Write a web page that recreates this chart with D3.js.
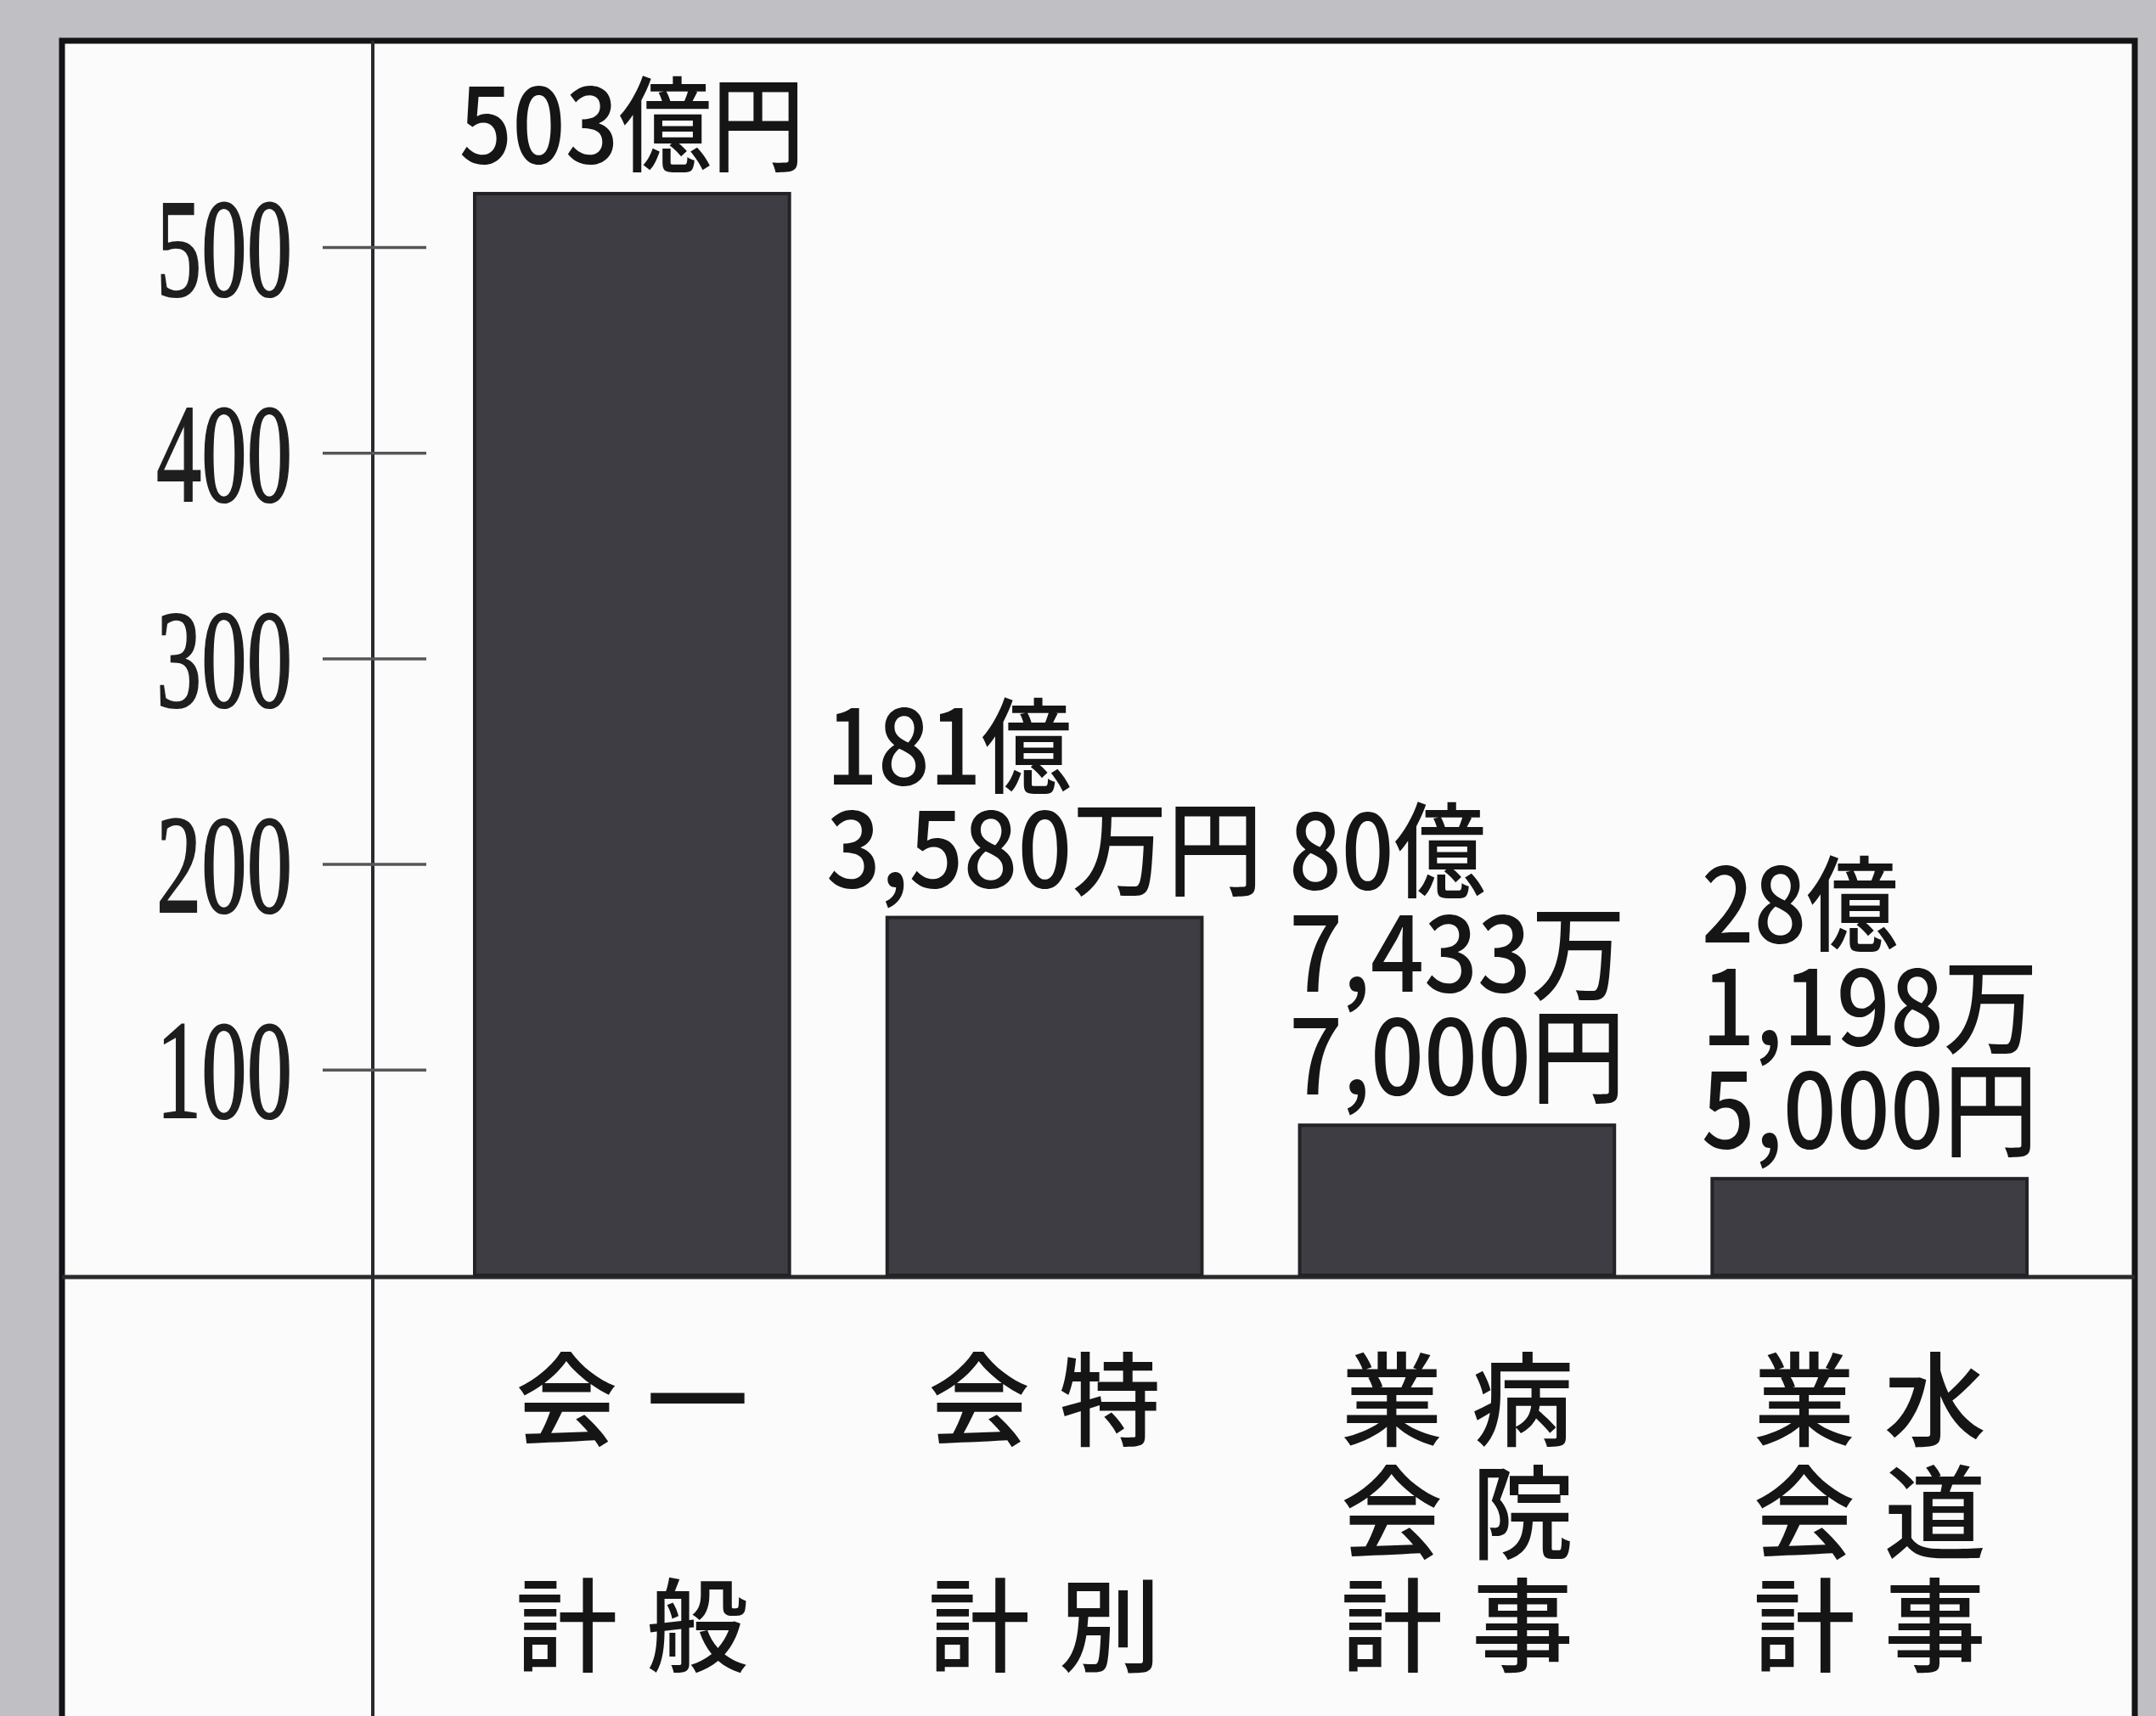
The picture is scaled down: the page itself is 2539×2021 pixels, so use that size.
<!DOCTYPE html>
<html>
<head>
<meta charset="utf-8">
<script src="https://cdn.jsdelivr.net/npm/d3@7"></script>
<style>
  html, body { margin: 0; padding: 0; background: #bfbfc3; }
  svg { display: block; }
</style>
</head>
<body>
<svg id="chart"></svg>
<script>
// categories (read top-to-bottom, right column first, as in the vertical print)
const categories = ["一般会計", "特別会計", "病院事業会計", "水道事業会計"];
// bar heights as drawn in the picture (億円)
const barValues = [526, 174, 73, 47];
// printed amounts above each bar
const amountLabels = [
    ["503億円"],
    ["181億", "3,580万円"],
    ["80億", "7,433万", "7,000円"],
    ["28億", "1,198万", "5,000円"]
];
const yTicks = [100, 200, 300, 400, 500];

const W = 2539, H = 2021;
const frame = { left: 73, top: 48, right: 2514, axisX: 439, baseY: 1504 };

const svg = d3.select("#chart")
    .attr("width", W)
    .attr("height", H)
    .attr("viewBox", `0 0 ${W} ${H}`);

// paper background and the white panel
svg.append("rect")
    .attr("width", W).attr("height", H)
    .attr("fill", "#c0c0c4");

svg.append("rect")
    .attr("x", frame.left).attr("y", frame.top)
    .attr("width", frame.right - frame.left)
    .attr("height", H + 100 - frame.top)
    .attr("fill", "#fbfbfb")
    .attr("stroke", "#141416")
    .attr("stroke-width", 7);

// scales
const x = d3.scaleBand()
    .domain(categories)
    .range([559, 2387])
    .paddingInner(0.237)
    .paddingOuter(0);

const y = d3.scaleLinear()
    .domain([0, 500])
    .range([1502, 291]);

// frame lines: vertical axis and baseline
svg.append("line")
    .attr("x1", frame.axisX).attr("x2", frame.axisX)
    .attr("y1", frame.top).attr("y2", H)
    .attr("stroke", "#2a2a2e")
    .attr("stroke-width", 4);

svg.append("line")
    .attr("x1", frame.left).attr("x2", frame.right)
    .attr("y1", frame.baseY).attr("y2", frame.baseY)
    .attr("stroke", "#2a2a2e")
    .attr("stroke-width", 5);

// Y axis ticks, crossing the axis line
const yAxis = svg.append("g")
    .attr("transform", "translate(502,0)")
    .call(d3.axisLeft(y)
        .tickValues(yTicks)
        .tickSize(122)
        .tickPadding(36));

yAxis.select(".domain").remove();
yAxis.selectAll("line")
    .attr("stroke", "#55555a")
    .attr("stroke-width", 3.5);
yAxis.selectAll("text")
    .attr("dy", null)
    .attr("y", 56)
    .attr("fill", "#1e1e1e")
    .attr("stroke", "#1e1e1e")
    .attr("stroke-width", 2)
    .attr("font-family", "'Liberation Serif', 'DejaVu Serif', serif")
    .attr("font-size", 166)
    .attr("textLength", 160)
    .attr("lengthAdjust", "spacingAndGlyphs");

// bars
svg.append("g")
    .selectAll("rect")
    .data(categories)
    .join("rect")
    .attr("x", d => x(d))
    .attr("y", (d, i) => y(barValues[i]))
    .attr("width", x.bandwidth())
    .attr("height", (d, i) => y(0) - y(barValues[i]))
    .attr("fill", "#3e3d43")
    .attr("stroke", "#232326")
    .attr("stroke-width", 4);

// amount labels above bars: left-aligned block, centred on the bar
const charW = ch => /[0-9]/.test(ch) ? 57 : (ch === "," ? 50 : 118);
const lineW = s => d3.sum(Array.from(s), charW);
const lineGap = 121;

const amountGroups = svg.append("g")
    .selectAll("g")
    .data(categories)
    .join("g");

amountGroups.each(function (d, i) {
    const lines = amountLabels[i];
    const blockW = d3.max(lines, lineW);
    const left = x(d) + x.bandwidth() / 2 - blockW / 2;
    const lastBase = y(barValues[i]) - 36;
    d3.select(this).selectAll("text")
        .data(lines)
        .join("text")
        .attr("x", left)
        .attr("y", (s, j) => lastBase - (lines.length - 1 - j) * lineGap)
        .attr("font-family", "'Noto Sans CJK JP', 'Noto Sans', sans-serif")
        .attr("font-weight", 500)
        .attr("font-size", 122)
        .attr("fill", "#151515")
        .attr("textLength", s => lineW(s))
        .attr("lengthAdjust", "spacingAndGlyphs")
        .text(s => s);
});

// category names, written vertically: right column first, then left column
const colOffset = 77;
const rowTop = 1642, rowBottom = 1908;

const catGroups = svg.append("g")
    .selectAll("g")
    .data(categories)
    .join("g");

catGroups.each(function (d) {
    const chars = Array.from(d);
    const perCol = chars.length / 2;
    const rows = d3.scalePoint()
        .domain(d3.range(perCol))
        .range([rowTop, rowBottom]);
    const cx = x(d) + x.bandwidth() / 2;
    const cells = chars.map((c, k) => ({
        c,
        col: Math.floor(k / perCol),
        row: k % perCol
    }));
    d3.select(this).selectAll("text")
        .data(cells)
        .join("text")
        .attr("x", e => cx + (e.col === 0 ? colOffset : -colOffset))
        .attr("y", e => rows(e.row))
        .attr("text-anchor", "middle")
        .attr("dominant-baseline", "central")
        .attr("font-family", "'Noto Sans CJK JP', sans-serif")
        .attr("font-weight", 500)
        .attr("font-size", 120)
        .attr("fill", "#151515")
        .text(e => e.c);
});
</script>
</body>
</html>
